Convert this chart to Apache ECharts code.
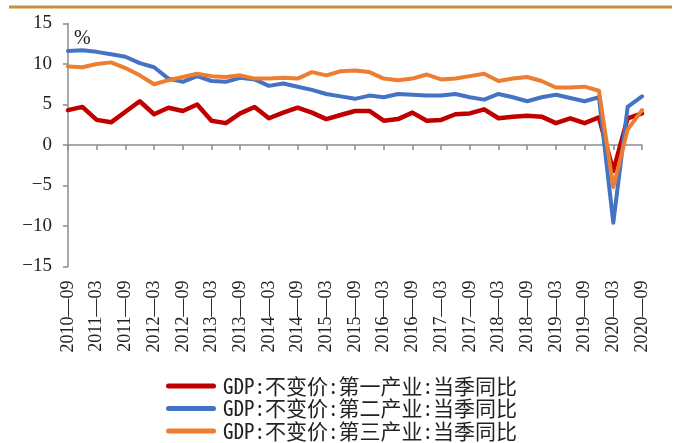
<!DOCTYPE html>
<html>
<head>
<meta charset="utf-8">
<script src="https://cdn.jsdelivr.net/npm/echarts@6/dist/echarts.min.js"></script>
<style>
  html, body { margin: 0; padding: 0; background: #fff; }
  #chart { width: 676px; height: 443px; }
</style>
</head>
<body>
<div id="chart"></div>
<script>
// Quarterly periods (year-month of quarter end)
const quarters = [
  '2010-09','2010-12','2011-03','2011-06','2011-09','2011-12','2012-03','2012-06','2012-09','2012-12',
  '2013-03','2013-06','2013-09','2013-12','2014-03','2014-06','2014-09','2014-12','2015-03','2015-06',
  '2015-09','2015-12','2016-03','2016-06','2016-09','2016-12','2017-03','2017-06','2017-09','2017-12',
  '2018-03','2018-06','2018-09','2018-12','2019-03','2019-06','2019-09','2019-12','2020-03','2020-06',
  '2020-09'
];

// Series names
const namePrimary = 'GDP:不变价:第一产业:当季同比';
const nameSecondary = 'GDP:不变价:第二产业:当季同比';
const nameTertiary = 'GDP:不变价:第三产业:当季同比';

// Year-on-year growth, %
const primary = [4.3, 4.7, 3.1, 2.8, 4.1, 5.4, 3.8, 4.6, 4.2, 5.0,
  3.0, 2.7, 3.9, 4.7, 3.3, 4.0, 4.6, 4.0, 3.2, 3.7,
  4.2, 4.2, 3.0, 3.2, 4.0, 3.0, 3.1, 3.8, 3.9, 4.4,
  3.3, 3.5, 3.6, 3.5, 2.7, 3.3, 2.7, 3.4, -3.2, 3.3, 3.9];
const secondary = [11.6, 11.7, 11.5, 11.2, 10.9, 10.1, 9.6, 8.2, 7.8, 8.5,
  7.9, 7.8, 8.3, 8.1, 7.3, 7.6, 7.2, 6.8, 6.3, 6.0,
  5.7, 6.1, 5.9, 6.3, 6.2, 6.1, 6.1, 6.3, 5.9, 5.6,
  6.3, 5.9, 5.4, 5.9, 6.2, 5.8, 5.4, 5.9, -9.6, 4.7, 6.0];
const tertiary = [9.7, 9.6, 10.0, 10.2, 9.5, 8.6, 7.5, 8.0, 8.4, 8.8,
  8.5, 8.4, 8.6, 8.2, 8.2, 8.3, 8.2, 9.0, 8.6, 9.1,
  9.2, 9.0, 8.2, 8.0, 8.2, 8.7, 8.1, 8.2, 8.5, 8.8,
  7.9, 8.2, 8.4, 7.9, 7.1, 7.1, 7.2, 6.7, -5.2, 1.9, 4.3];

const serif = '"Liberation Serif", "Times New Roman", serif';
const cjk = '"Noto Sans Mono CJK SC", "Noto Sans CJK SC", sans-serif';
const axisGray = '#8c8c8c';
const pill = 'path://M5,0 L95,0 A5,5 0 0 1 95,10 L5,10 A5,5 0 0 1 5,0 Z';

const chart = echarts.init(document.getElementById('chart'), null, { renderer: 'canvas' });

function lineSeries(name, data, color, width) {
  return {
    name: name,
    type: 'line',
    data: data,
    xAxisIndex: 0,
    yAxisIndex: 0,
    symbol: 'none',
    smooth: false,
    lineStyle: { color: color, width: width, cap: 'round', join: 'round' },
    itemStyle: { color: color },
    emphasis: { disabled: true }
  };
}

// one legend row per series, stacked under the plot
function legendRow(name, top) {
  return {
    orient: 'horizontal',
    left: 161,
    top: top,
    itemWidth: 54,
    itemHeight: 5,
    icon: pill,
    selectedMode: false,
    textStyle: { fontFamily: cjk, fontSize: 21, color: '#222' },
    data: [name]
  };
}

chart.setOption({
  animation: false,
  backgroundColor: '#ffffff',
  grid: { left: 68, right: 34, top: 23.5, height: 243, containLabel: false },
  graphic: [
    {
      type: 'line',
      shape: { x1: 9, y1: 7, x2: 672, y2: 7 },
      style: { stroke: '#c4923f', lineWidth: 3 }
    },
    {
      type: 'text',
      left: 74, top: 29,
      style: { text: '%', font: '20px ' + serif, fill: '#222' }
    }
  ],
  legend: [
    legendRow(namePrimary, 370.5),
    legendRow(nameSecondary, 393),
    legendRow(nameTertiary, 415.5)
  ],
  xAxis: [
    {
      // category labels along the bottom
      type: 'category',
      data: quarters,
      boundaryGap: false,
      position: 'bottom',
      axisLine: { show: false, onZero: false },
      axisTick: { show: false },
      splitLine: { show: false },
      axisLabel: {
        interval: 1,
        rotate: 90,
        margin: 14,
        fontFamily: serif,
        fontSize: 18,
        color: '#222',
        formatter: v => v.replace('-', '—')
      }
    },
    {
      // zero line carrying the tick marks
      type: 'category',
      data: quarters,
      boundaryGap: false,
      position: 'bottom',
      axisLine: { show: true, onZero: true, onZeroAxisIndex: 0, lineStyle: { color: axisGray, width: 1.5 } },
      axisTick: { show: true, interval: 1, length: 5, inside: false, lineStyle: { color: axisGray, width: 1.5 } },
      axisLabel: { show: false },
      splitLine: { show: false }
    }
  ],
  yAxis: {
    type: 'value',
    min: -15,
    max: 15,
    interval: 5,
    axisLine: { show: true, onZero: false, lineStyle: { color: axisGray, width: 1.5 } },
    axisTick: { show: true, length: 5, inside: false, lineStyle: { color: axisGray, width: 1.5 } },
    splitLine: { show: false },
    axisLabel: {
      margin: 16,
      fontFamily: serif,
      fontSize: 19,
      color: '#222',
      formatter: v => String(v).replace('-', '−')
    }
  },
  series: [
    lineSeries(namePrimary, primary, '#c00000', 4.5),
    lineSeries(nameSecondary, secondary, '#4472c4', 4),
    lineSeries(nameTertiary, tertiary, '#ed7d31', 4)
  ]
});
</script>
</body>
</html>
